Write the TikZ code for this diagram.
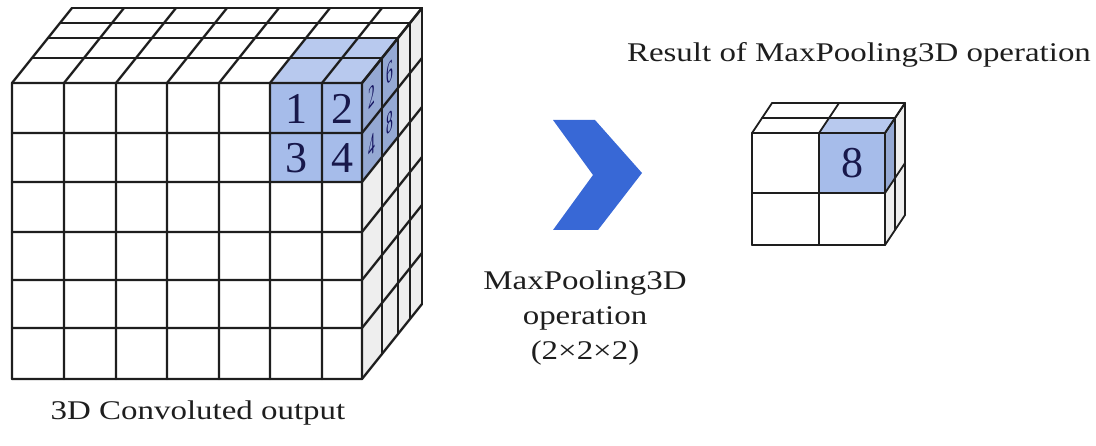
\documentclass[tikz,border=0pt]{standalone}
\usepackage{fontspec}
\setmainfont{Liberation Serif}
\definecolor{chev}{RGB}{56,104,214}
\definecolor{cblue}{RGB}{166,188,234}
\definecolor{sgray}{RGB}{238,238,238}
\definecolor{ink}{RGB}{30,30,30}
\begin{document}
\begin{tikzpicture}[x=1pt,y=-1pt,
  bigline/.style={line width=2.3pt, draw=ink, line cap=round, line join=round},
  smallline/.style={line width=1.8pt, draw=ink, line cap=round, line join=round},
  digit/.style={font=\fontsize{44}{44}\selectfont, text=ink!80!blue, inner sep=0pt},
  sidedigit/.style={font=\fontsize{30}{30}\selectfont, text=ink!70!blue, inner sep=0pt, cm={0.45,0.56,0,1,(0,0)}},
  label/.style={font=\fontsize{27}{34}\selectfont, text=ink, inner sep=0pt, xscale=1.22}]
\useasboundingbox (0,0) rectangle (1096,446);

% ---------- big cube ----------
\fill[white] (12,83) rectangle (362,379);
\fill[white] (12,83) -- (362,83) -- (422,8) -- (72,8) -- cycle;
\fill[sgray] (362,83) -- (422,8) -- (422,304) -- (362,379) -- cycle;
% blue 2x2x2 block
\fill[cblue] (270,83) rectangle (362,182);
\fill[cblue!80!white] (270,83) -- (362,83) -- (398,38) -- (306,38) -- cycle;
\fill[cblue!90!black] (362,83) -- (398,38) -- (398,137) -- (362,182) -- cycle;
% grid
\foreach \x in {12,64,116,167,219,270,322,362}
  \draw[bigline] (\x,379) -- (\x,83) -- ++(60,-75);
\foreach \y in {83,133,182,232,280,328,379}
  \draw[bigline] (12,\y) -- (362,\y) -- ++(60,-75);
\foreach \d in {0.33,0.6,0.8,1}
  \draw[bigline] ({12+60*\d},{83-75*\d}) -- ({362+60*\d},{83-75*\d}) -- ({362+60*\d},{379-75*\d});
% digits
\node[digit] (d1) at (296,109) {1};
\node[digit] (d2) at (342,109) {2};
\node[digit] (d3) at (296,158) {3};
\node[digit] (d4) at (342,158) {4};
\node[sidedigit] (s2) at (372,96) {2};
\node[sidedigit] (s4) at (372,145) {4};
\node[sidedigit] (s6) at (390,73) {6};
\node[sidedigit] (s8) at (390,122) {8};

\node[label] (conv) at (198,413) {3D Convoluted output};

% ---------- chevron ----------
\fill[chev] (553,120) -- (595,120) -- (642,173) -- (598,230) -- (553,230) -- (593,175) -- cycle;
\node[label] (mp1) at (585,283) {MaxPooling3D};
\node[label] (mp2) at (585,318) {operation};
\node[label] (mp3) at (585,353) {(2×2×2)};

% ---------- result cube ----------
\fill[white] (752,133) rectangle (885,245);
\fill[white] (752,133) -- (885,133) -- (905,103) -- (772,103) -- cycle;
\fill[sgray] (885,133) -- (905,103) -- (905,215) -- (885,245) -- cycle;
\fill[cblue] (819,133) rectangle (885,193);
\fill[cblue!80!white] (819,133) -- (885,133) -- (895,118) -- (829,118) -- cycle;
\fill[cblue!90!black] (885,133) -- (895,118) -- (895,178) -- (885,193) -- cycle;
\foreach \x in {752,819,885}
  \draw[smallline] (\x,245) -- (\x,133) -- ++(20,-30);
\foreach \y in {133,193,245}
  \draw[smallline] (752,\y) -- (885,\y) -- ++(20,-30);
\draw[smallline] (762,118) -- (895,118) -- (895,230);
\draw[smallline] (772,103) -- (905,103) -- (905,215);
\node[digit] (r8) at (852,163) {8};

\node[label] (res) at (859,55) {Result of MaxPooling3D operation};
\end{tikzpicture}
\end{document}
